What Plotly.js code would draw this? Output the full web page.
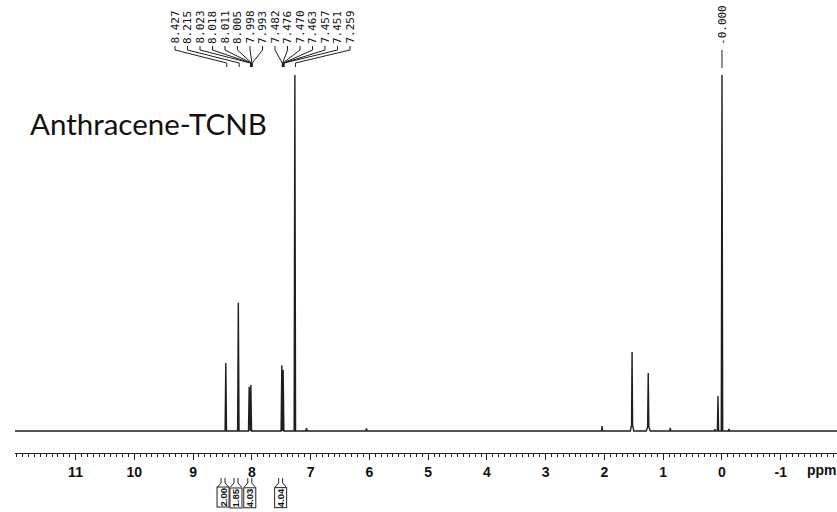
<!DOCTYPE html>
<html>
<head>
<meta charset="utf-8">
<script src="https://cdn.plot.ly/plotly-3.0.1.min.js"></script>
<style>html,body{margin:0;padding:0;background:#fff;}#chart{width:837px;height:512px;}</style>
</head>
<body>
<div id="chart"></div>
<script>
// ---- data ----
const peakPpm    = [8.443, 8.230, 8.045, 8.017, 7.490, 7.467, 7.268, 7.07, 6.05, 2.04, 1.530, 1.255, 0.88, 0.12, 0.068, 0.000, -0.12];
const peakHeight = [19.1, 36.0, 12.4, 12.9, 18.5, 17.1, 100, 0.8, 0.7, 1.4, 22.2, 16.3, 0.9, 0.5, 9.8, 100, 0.6];
const peakWidth  = [0.012, 0.012, 0.012, 0.012, 0.012, 0.012, 0.012, 0.012, 0.012, 0.008, 0.03, 0.035, 0.03, 0.01, 0.01, 0.012, 0.01];
const shiftLabels = ['8.427','8.215','8.023','8.018','8.011','8.005','7.998','7.993','7.482','7.476','7.470','7.463','7.457','7.451','7.259'];
const tmsLabel = '-0.000';
const integralCenter = [8.49, 8.27, 8.035, 7.51];
const integralValue  = ['2.00', '1.85', '4.03', '4.04'];
const tickValues = [11, 10, 9, 8, 7, 6, 5, 4, 3, 2, 1, 0, -1];
const tickTexts  = ['11','10','9','8','7','6','5','4','3','2','1','0','-1'];
const xRange = [12.03, -1.957];
const chartTitle = 'Anthracene-TCNB';
const unitLabel = 'ppm';

// ---- geometry helpers ----
const W = 837, H = 512, ML = 15, MB = 59;
const plotW = W - ML, plotH = H - MB;
const pxPerPpm = plotW / (xRange[0] - xRange[1]);
const pxPerUnit = 3.56;            // px per intensity unit
const baseY = 431;                 // pixel row of baseline
const yRange = [-(plotH - baseY) / pxPerUnit, baseY / pxPerUnit];
const yAt = py => (baseY - py) / pxPerUnit;        // pixel row -> data y
const pyPaper = py => (plotH - py) / plotH;        // pixel row -> paper y
const pxPaper = px => (px - ML) / plotW;           // pixel col -> paper x
const dPpm = px => px / pxPerPpm;                  // pixel distance -> ppm

// ---- spectrum trace built from the peak list ----
const order = peakPpm.map((p, i) => i).sort((a, b) => peakPpm[b] - peakPpm[a]);
const sx = [xRange[0]], sy = [0];
order.forEach(i => {
  const p = peakPpm[i], h = peakHeight[i], w = peakWidth[i];
  if (w > 0.02) {
    sx.push(p + w, p + w * 0.3, p, p - w * 0.3, p - w);
    sy.push(0, h * 0.07, h, h * 0.07, 0);
  } else {
    sx.push(p + w, p, p - w);
    sy.push(0, h, 0);
  }
});
sx.push(xRange[1]); sy.push(0);

// ---- label connectors ----
const labelStartPx = 175, labelStepPx = 12.5;
const labelStartPpm = xRange[0] - dPpm(labelStartPx - ML);
const cx = [], cy = [];
shiftLabels.forEach((t, i) => {
  const lx = labelStartPpm - i * dPpm(labelStepPx);
  const tx = parseFloat(t);
  cx.push(lx, lx, tx, tx, null);
  cy.push(yAt(46), yAt(50), yAt(63), yAt(67), null);
});
cx.push(0, 0, null); cy.push(yAt(50), yAt(68), null);

const traces = [
  {x: sx, y: sy, type: 'scatter', mode: 'lines', line: {color: '#1e1e1e', width: 1.4}, hoverinfo: 'skip', showlegend: false},
  {x: cx, y: cy, type: 'scatter', mode: 'lines', line: {color: '#1e1e1e', width: 1}, hoverinfo: 'skip', showlegend: false}
];

const annotations = [];
shiftLabels.forEach((t, i) => {
  annotations.push({
    x: labelStartPpm - i * dPpm(labelStepPx), xref: 'x', y: yAt(45), yref: 'y',
    text: t, showarrow: false, textangle: -90, xanchor: 'center', yanchor: 'bottom',
    font: {family: 'DejaVu Sans Mono', size: 11, color: '#111'}, borderpad: 0
  });
});
annotations.push({
  x: 0, xref: 'x', y: yAt(46), yref: 'y', text: tmsLabel, showarrow: false, textangle: -90,
  xanchor: 'center', yanchor: 'bottom', font: {family: 'DejaVu Sans Mono', size: 11, color: '#111'}, borderpad: 0
});
annotations.push({
  x: pxPaper(28), xref: 'paper', y: pyPaper(123), yref: 'paper', text: chartTitle, showarrow: false,
  xanchor: 'left', yanchor: 'middle', font: {family: 'Lato', size: 29.5, color: '#111'}
});
annotations.push({
  x: pxPaper(805), xref: 'paper', y: pyPaper(470), yref: 'paper', text: unitLabel, showarrow: false,
  xanchor: 'left', yanchor: 'middle', font: {family: 'Liberation Sans', size: 14, color: '#111', weight: 'bold'}
});
const shapes = [];
integralCenter.forEach((c, i) => {
  annotations.push({
    x: c, xref: 'x', y: pyPaper(487), yref: 'paper', text: integralValue[i], showarrow: false,
    textangle: -90, xanchor: 'center', yanchor: 'top', bordercolor: '#222', borderwidth: 1, borderpad: 0,
    font: {family: 'Liberation Sans', size: 9.5, color: '#111', weight: 'bold'}
  });
  const hw = dPpm(5.5), iw = dPpm(2);
  shapes.push({type: 'path', xref: 'x', yref: 'paper', line: {color: '#222', width: 1},
    path: `M ${c + hw} ${pyPaper(487)} L ${c + iw} ${pyPaper(483)} L ${c + iw} ${pyPaper(478)}`});
  shapes.push({type: 'path', xref: 'x', yref: 'paper', line: {color: '#222', width: 1},
    path: `M ${c - hw} ${pyPaper(487)} L ${c - iw} ${pyPaper(483)} L ${c - iw} ${pyPaper(478)}`});
});

const layout = {
  width: W, height: H,
  margin: {l: ML, r: 0, t: 0, b: MB, pad: 0},
  paper_bgcolor: '#fff', plot_bgcolor: '#fff',
  showlegend: false,
  xaxis: {
    range: xRange, showgrid: false, zeroline: false, showline: true, linecolor: '#222', linewidth: 1,
    ticks: 'outside', ticklen: 6, tickwidth: 1, tickcolor: '#222',
    tickmode: 'array', tickvals: tickValues, ticktext: tickTexts,
    tickfont: {family: 'Liberation Sans', size: 14, color: '#111', weight: 'bold'},
    minor: {tickmode: 'linear', tick0: 0, dtick: 0.1, ticks: 'outside', ticklen: 3, tickcolor: '#222', showgrid: false},
    fixedrange: true
  },
  yaxis: {range: yRange, visible: false, fixedrange: true},
  annotations: annotations,
  shapes: shapes
};

Plotly.newPlot('chart', traces, layout, {staticPlot: true, displayModeBar: false});
</script>
</body>
</html>
